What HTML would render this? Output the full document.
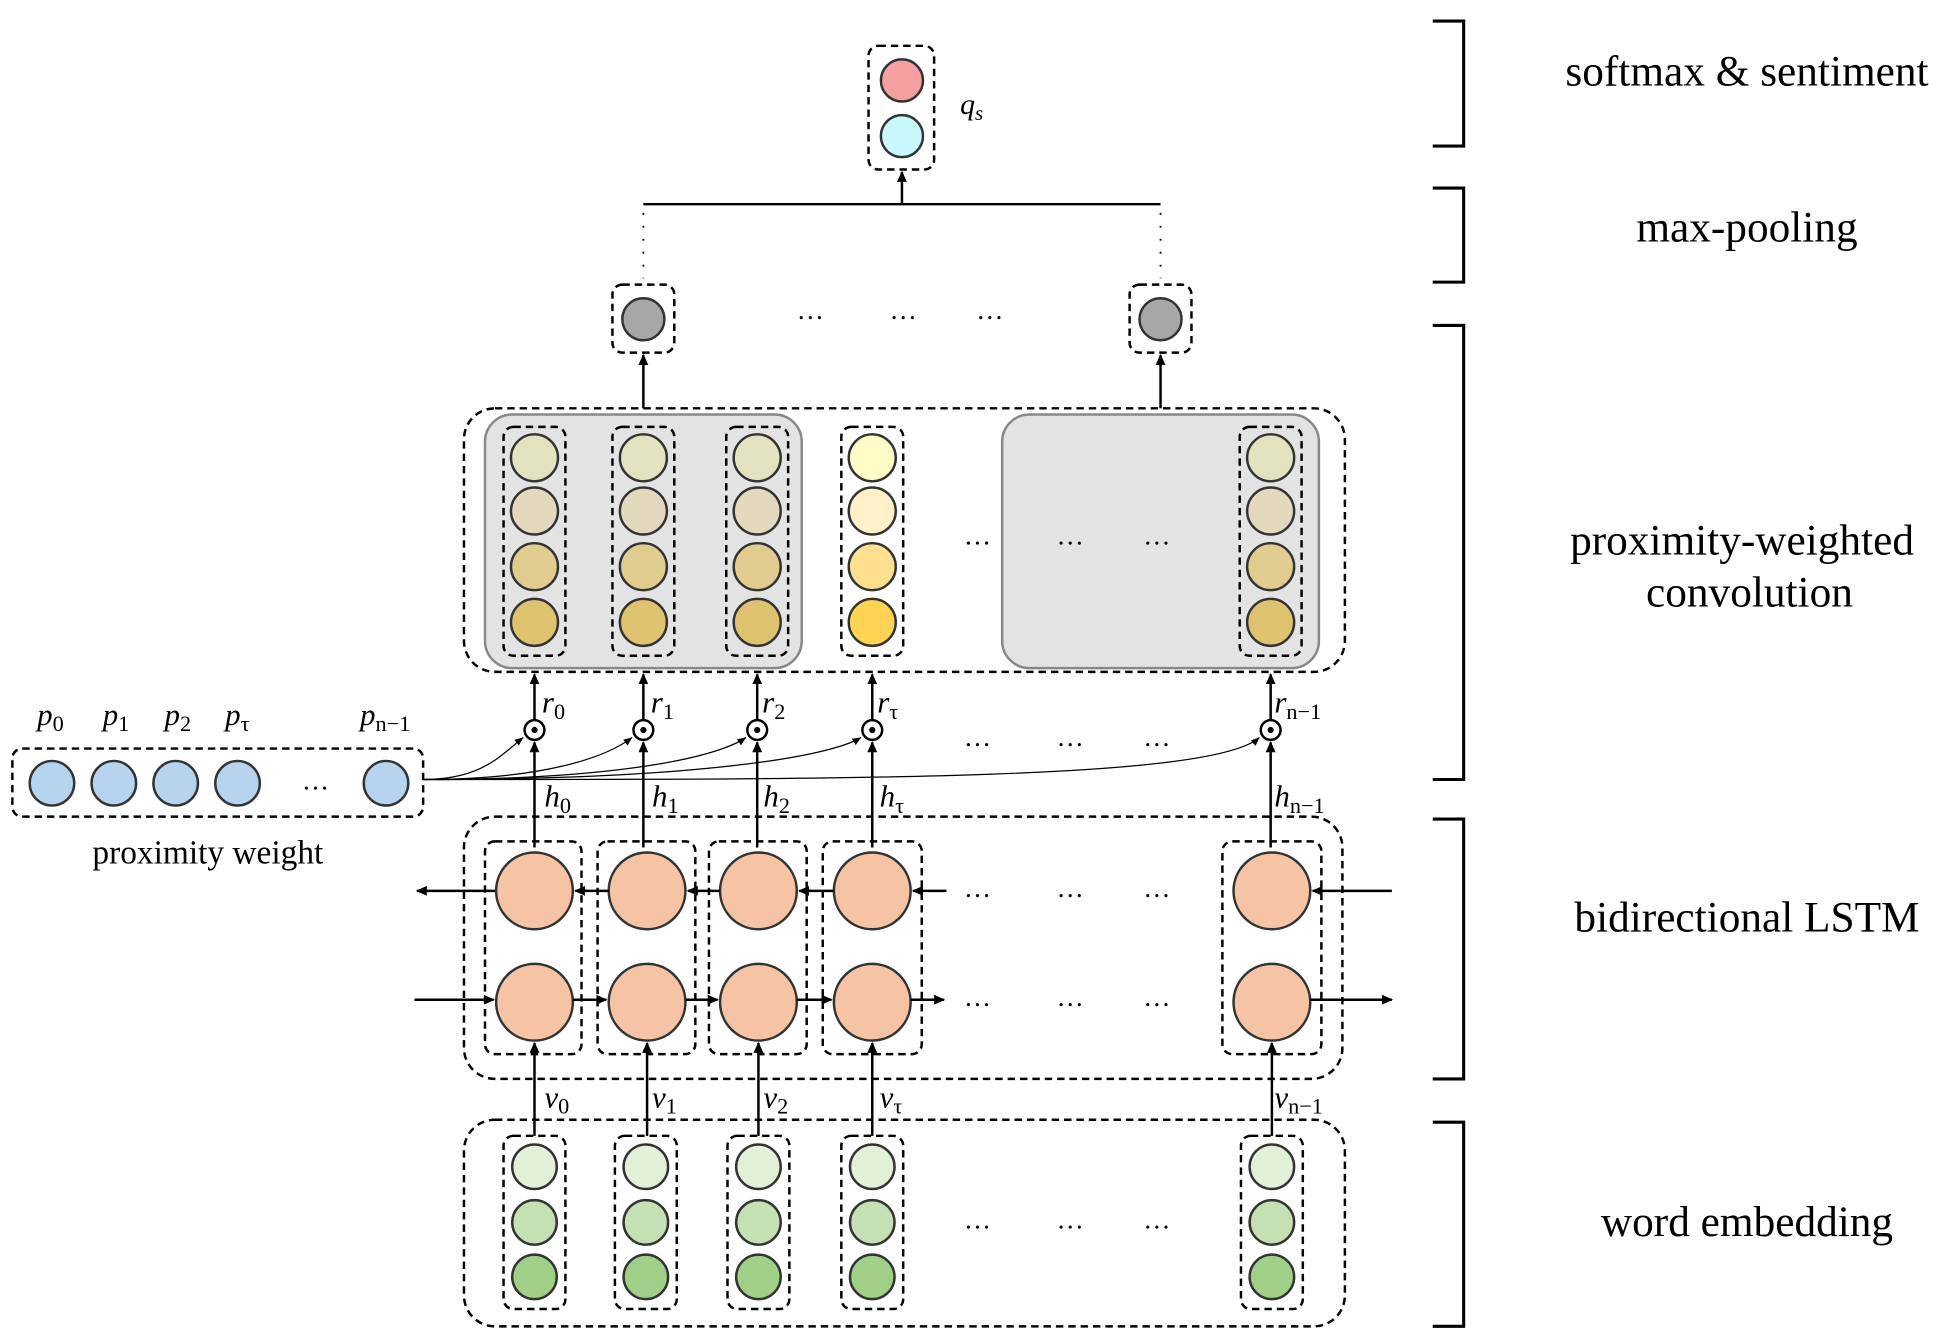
<!DOCTYPE html>
<html><head><meta charset="utf-8"><style>html,body{margin:0;padding:0;background:#fff}svg{display:block}.sb{font-style:normal}</style></head><body>
<svg width="1940" height="1340" viewBox="0 0 1568 1083" xmlns="http://www.w3.org/2000/svg" font-family="Liberation Serif, serif">
<defs>
<marker id="a" markerWidth="10" markerHeight="10" refX="8" refY="5" orient="auto" markerUnits="userSpaceOnUse"><path d="M0,1 L9,5 L0,9 z" fill="#000"/></marker>
<marker id="s" markerWidth="8" markerHeight="8" refX="7" refY="4" orient="auto" markerUnits="userSpaceOnUse"><path d="M0,1 L7,4 L0,7 z" fill="#000"/></marker>
</defs>
<g fill="none" stroke="#000" stroke-width="2" stroke-dasharray="6,4">
<rect x="702" y="37" width="53" height="100" rx="8"/>
<rect x="495" y="230" width="50" height="55" rx="8"/>
<rect x="913" y="230" width="50" height="55" rx="8"/>
<rect x="375" y="330" width="712" height="213" rx="25"/>
<rect x="10" y="605" width="332" height="55" rx="8"/>
<rect x="375" y="660" width="710" height="212" rx="25"/>
<rect x="375" y="905" width="712" height="167" rx="25"/>
</g>
<rect x="392" y="335" width="256" height="205" rx="22" fill="#e3e3e3" stroke="#888" stroke-width="2"/>
<rect x="810" y="335" width="256" height="205" rx="22" fill="#e3e3e3" stroke="#888" stroke-width="2"/>
<g stroke="#333" stroke-width="2">
<circle cx="729" cy="65" r="17" fill="#f4a0a0"/><circle cx="729" cy="110" r="17" fill="#c8f8fc"/>
<circle cx="520" cy="258" r="17" fill="#a9a6a6"/><circle cx="938" cy="258" r="17" fill="#a9a6a6"/>
</g>
<g stroke="#000" stroke-width="2" fill="none">
<line x1="729" y1="165" x2="729" y2="139" marker-end="url(#a)"/>
<line x1="520" y1="165" x2="938" y2="165"/>
<line x1="520" y1="172" x2="520" y2="225" stroke-dasharray="1.5,9" stroke-width="1.5"/>
<line x1="938" y1="172" x2="938" y2="225" stroke-dasharray="1.5,9" stroke-width="1.5"/>
<line x1="520" y1="330" x2="520" y2="287" marker-end="url(#a)"/>
<line x1="938" y1="330" x2="938" y2="287" marker-end="url(#a)"/>
</g>
<g font-size="22" text-anchor="middle">
<text x="655" y="258">…</text><text x="730" y="258">…</text><text x="800" y="258">…</text>
<text x="790" y="440">…</text><text x="865" y="440">…</text><text x="935" y="440">…</text>
<text x="790" y="603">…</text><text x="865" y="603">…</text><text x="935" y="603">…</text>
<text x="790" y="725">…</text><text x="865" y="725">…</text><text x="935" y="725">…</text>
<text x="790" y="813">…</text><text x="865" y="813">…</text><text x="935" y="813">…</text>
<text x="790" y="993">…</text><text x="865" y="993">…</text><text x="935" y="993">…</text>
<text x="255" y="638">…</text>
</g>
<text x="776" y="92" font-size="24" font-style="italic">q<tspan font-size="17" dy="5">s</tspan></text>
<g stroke="#333" stroke-width="2">
<g id="cc"><rect x="407" y="345" width="50" height="185" rx="8" fill="none" stroke="#000" stroke-dasharray="6,4"/>
<circle cx="432" cy="370" r="19" fill="#e2e2c0"/><circle cx="432" cy="413" r="19" fill="#e2d8be"/><circle cx="432" cy="458" r="19" fill="#e0cc8e"/><circle cx="432" cy="503" r="19" fill="#dfc26e"/></g>
<use href="#cc" x="88"/><use href="#cc" x="180"/><use href="#cc" x="595"/>
<rect x="680" y="345" width="50" height="185" rx="8" fill="none" stroke="#000" stroke-dasharray="6,4"/>
<circle cx="705" cy="370" r="19" fill="#fffcc8"/><circle cx="705" cy="413" r="19" fill="#fff0c8"/><circle cx="705" cy="458" r="19" fill="#ffe08e"/><circle cx="705" cy="503" r="19" fill="#ffd454"/>
</g>
<g id="od">
<line x1="432" y1="685" x2="432" y2="600" stroke="#000" stroke-width="2" marker-end="url(#a)"/>
<line x1="432" y1="582" x2="432" y2="545" stroke="#000" stroke-width="2" marker-end="url(#a)"/>
<circle cx="432" cy="590" r="8" fill="#fff" stroke="#000" stroke-width="2"/><circle cx="432" cy="590" r="2.5"/>
</g>
<use href="#od" x="88"/><use href="#od" x="180"/><use href="#od" x="273"/><use href="#od" x="595"/>
<g font-size="25" font-style="italic">
<text x="438" y="576">r<tspan class="sb" font-size="18" dy="5">0</tspan></text>
<text x="526" y="576">r<tspan class="sb" font-size="18" dy="5">1</tspan></text>
<text x="616" y="576">r<tspan class="sb" font-size="18" dy="5">2</tspan></text>
<text x="709" y="576">r<tspan class="sb" font-size="18" dy="5">τ</tspan></text>
<text x="1030" y="576">r<tspan class="sb" font-size="18" dy="5">n−1</tspan></text>
<text x="440" y="652">h<tspan class="sb" font-size="18" dy="5">0</tspan></text>
<text x="527" y="652">h<tspan class="sb" font-size="18" dy="5">1</tspan></text>
<text x="617" y="652">h<tspan class="sb" font-size="18" dy="5">2</tspan></text>
<text x="711" y="652">h<tspan class="sb" font-size="18" dy="5">τ</tspan></text>
<text x="1030" y="652">h<tspan class="sb" font-size="18" dy="5">n−1</tspan></text>
<text x="440" y="895">v<tspan class="sb" font-size="18" dy="5">0</tspan></text>
<text x="527" y="895">v<tspan class="sb" font-size="18" dy="5">1</tspan></text>
<text x="617" y="895">v<tspan class="sb" font-size="18" dy="5">2</tspan></text>
<text x="711" y="895">v<tspan class="sb" font-size="18" dy="5">τ</tspan></text>
<text x="1030" y="895">v<tspan class="sb" font-size="18" dy="5">n−1</tspan></text>
<text x="30" y="586">p<tspan class="sb" font-size="18" dy="5">0</tspan></text>
<text x="83" y="586">p<tspan class="sb" font-size="18" dy="5">1</tspan></text>
<text x="133" y="586">p<tspan class="sb" font-size="18" dy="5">2</tspan></text>
<text x="182" y="586">p<tspan class="sb" font-size="18" dy="5">τ</tspan></text>
<text x="291" y="586">p<tspan class="sb" font-size="18" dy="5">n−1</tspan></text>
</g>
<g stroke="#333" stroke-width="2" fill="#b6d4ee">
<circle cx="42" cy="633" r="18"/><circle cx="92" cy="633" r="18"/><circle cx="142" cy="633" r="18"/><circle cx="192" cy="633" r="18"/><circle cx="312" cy="633" r="18"/>
</g>
<text x="168" y="698" font-size="27" text-anchor="middle">proximity weight</text>
<g fill="none" stroke="#000" stroke-width="1">
<path d="M342,630 C390,630 405,610 423,596" marker-end="url(#s)"/>
<path d="M342,630 C440,630 490,612 511,596" marker-end="url(#s)"/>
<path d="M342,630 C500,630 580,612 603,596" marker-end="url(#s)"/>
<path d="M342,630 C560,630 670,612 696,596" marker-end="url(#s)"/>
<path d="M342,630 C700,630 980,630 1018,596" marker-end="url(#s)"/>
</g>
<g fill="none" stroke="#000" stroke-width="2" stroke-dasharray="6,4">
<rect x="392" y="680" width="78" height="172" rx="8"/><rect x="483" y="680" width="79" height="172" rx="8"/>
<rect x="573" y="680" width="79" height="172" rx="8"/><rect x="665" y="680" width="80" height="172" rx="8"/>
<rect x="988" y="680" width="80" height="172" rx="8"/>
</g>
<g stroke="#333" stroke-width="2" fill="#f6c4a4">
<circle cx="432" cy="720" r="31"/><circle cx="523" cy="720" r="31"/><circle cx="613" cy="720" r="31"/><circle cx="705" cy="720" r="31"/><circle cx="1028" cy="720" r="31"/>
<circle cx="432" cy="810" r="31"/><circle cx="523" cy="810" r="31"/><circle cx="613" cy="810" r="31"/><circle cx="705" cy="810" r="31"/><circle cx="1028" cy="810" r="31"/>
</g>
<g stroke="#000" stroke-width="2">
<line x1="400" y1="720" x2="337" y2="720" marker-end="url(#a)"/>
<line x1="492" y1="720" x2="465" y2="720" marker-end="url(#a)"/>
<line x1="582" y1="720" x2="556" y2="720" marker-end="url(#a)"/>
<line x1="674" y1="720" x2="646" y2="720" marker-end="url(#a)"/>
<line x1="765" y1="720" x2="738" y2="720" marker-end="url(#a)"/>
<line x1="1125" y1="720" x2="1061" y2="720" marker-end="url(#a)"/>
<line x1="335" y1="808" x2="399" y2="808" marker-end="url(#a)"/>
<line x1="463" y1="808" x2="490" y2="808" marker-end="url(#a)"/>
<line x1="554" y1="808" x2="580" y2="808" marker-end="url(#a)"/>
<line x1="644" y1="808" x2="672" y2="808" marker-end="url(#a)"/>
<line x1="736" y1="808" x2="763" y2="808" marker-end="url(#a)"/>
<line x1="1059" y1="808" x2="1125" y2="808" marker-end="url(#a)"/>
<line x1="432" y1="918" x2="432" y2="843" marker-end="url(#a)"/>
<line x1="523" y1="918" x2="523" y2="843" marker-end="url(#a)"/>
<line x1="613" y1="918" x2="613" y2="843" marker-end="url(#a)"/>
<line x1="705" y1="918" x2="705" y2="843" marker-end="url(#a)"/>
<line x1="1028" y1="918" x2="1028" y2="843" marker-end="url(#a)"/>
</g>
<g stroke="#333" stroke-width="2">
<g id="ec"><rect x="407" y="918" width="50" height="140" rx="8" fill="none" stroke="#000" stroke-dasharray="6,4"/>
<circle cx="432" cy="943" r="18" fill="#e2f0d8"/><circle cx="432" cy="988" r="18" fill="#c4e0b4"/><circle cx="432" cy="1032" r="18" fill="#a0d088"/></g>
<use href="#ec" x="90"/><use href="#ec" x="181"/><use href="#ec" x="273"/><use href="#ec" x="596"/>
</g>
<g fill="none" stroke="#000" stroke-width="2.5">
<path d="M1158,17 H1183 V118 H1158"/><path d="M1158,152 H1183 V228 H1158"/>
<path d="M1158,263 H1183 V630 H1158"/><path d="M1158,662 H1183 V872 H1158"/>
<path d="M1158,907 H1183 V1072 H1158"/>
</g>
<g font-size="35" text-anchor="middle">
<text x="1412" y="69">softmax &amp; sentiment</text>
<text x="1412" y="195">max-pooling</text>
<text x="1408" y="448">proximity-weighted</text>
<text x="1414" y="490">convolution</text>
<text x="1412" y="753">bidirectional LSTM</text>
<text x="1412" y="999">word embedding</text>
</g>
</svg>
</body></html>
